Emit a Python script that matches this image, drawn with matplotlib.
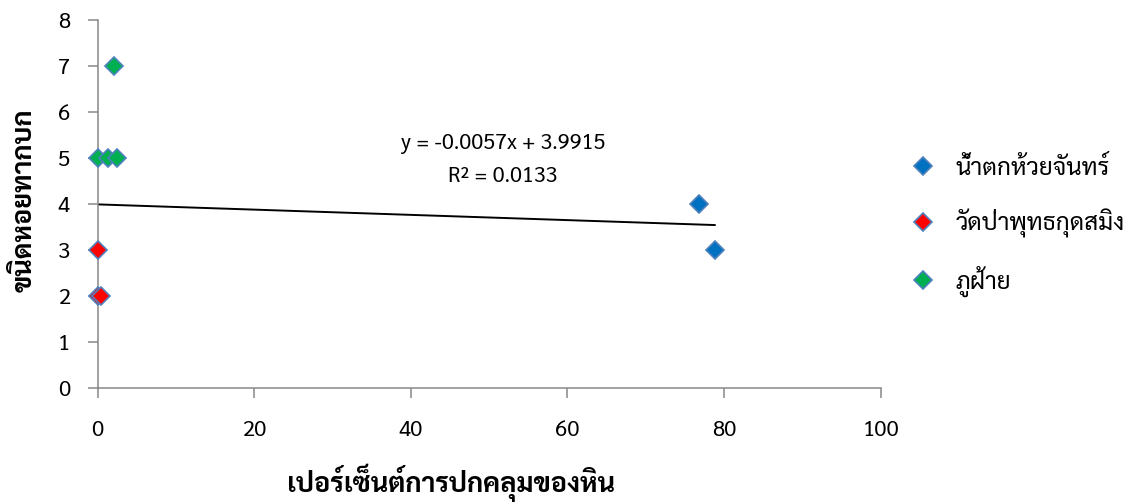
import matplotlib
matplotlib.use("Agg")
import matplotlib.pyplot as plt
import numpy as np

plt.rcParams['font.family'] = ['Sarabun', 'DejaVu Sans']

# ข้อมูล
sites = ["น้ำตกห้วยจันทร์", "วัดป่าพุทธกุดสมิง", "ภูฝ้าย"]
x_huai = [76.8, 78.8]
y_huai = [4, 3]
x_wat = [0, 0, 0.4]
y_wat = [3, 2, 2]
x_phu = [2.1, 0, 1.3, 2.5]
y_phu = [7, 5, 5, 5]
slope = -0.0057
intercept = 3.9915
r2 = 0.0133

colors = ["#0070C0", "#FF0000", "#00B050"]
edge = "#4F81BD"

W, H = 1137, 504
fig = plt.figure(figsize=(W / 100, H / 100), dpi=100)
ax = fig.add_axes([0.0859, 0.2302, 0.6887, 0.7301])

xs = [x_huai, x_wat, x_phu]
ys = [y_huai, y_wat, y_phu]
for i in range(len(sites)):
    ax.plot(xs[i], ys[i], linestyle="none", marker="D", markersize=9.5,
            markerfacecolor=colors[i], markeredgecolor=edge, markeredgewidth=1.2,
            label=sites[i], zorder=3, clip_on=False)

# เส้นแนวโน้ม
allx = np.array(x_huai + x_wat + x_phu)
tx = np.array([allx.min(), allx.max()])
ax.plot(tx, slope * tx + intercept, color="black", linewidth=1.4, zorder=2)

fig.text(503 / W, 1 - 160 / H, "y = %.4fx + %.4f\nR² = %.4f" % (slope, intercept, r2),
         ha="center", va="center", fontsize=15.5, linespacing=1.75)

ax.set_xlim(0, 100)
ax.set_ylim(0, 8)
ax.set_xticks(range(0, 101, 20))
ax.set_yticks(range(0, 9))
for s in ["top", "right"]:
    ax.spines[s].set_visible(False)
for s in ["left", "bottom"]:
    ax.spines[s].set_color("#888888")
    ax.spines[s].set_linewidth(1.1)
ax.tick_params(axis="both", color="#888888", width=1.1, length=7, labelsize=16)
ax.tick_params(axis="y", pad=13)
ax.tick_params(axis="x", pad=16)

fig.text(25 / W, 1 - 200 / H, "ขนิดหอยทากบก", rotation=90, ha="center", va="center",
         fontsize=19.5, fontweight="bold")
fig.text(451 / W, 1 - 483 / H, "เปอร์เซ็นต์การปกคลุมของหิน", ha="center", va="center",
         fontsize=19.5, fontweight="bold")

fig.legend(loc="upper left", bbox_to_anchor=(902 / W, 1 - 146 / H), frameon=False,
           fontsize=17.5, handlelength=0.9, handletextpad=0.9, labelspacing=1.15,
           borderaxespad=0)

fig.savefig("out.png")
